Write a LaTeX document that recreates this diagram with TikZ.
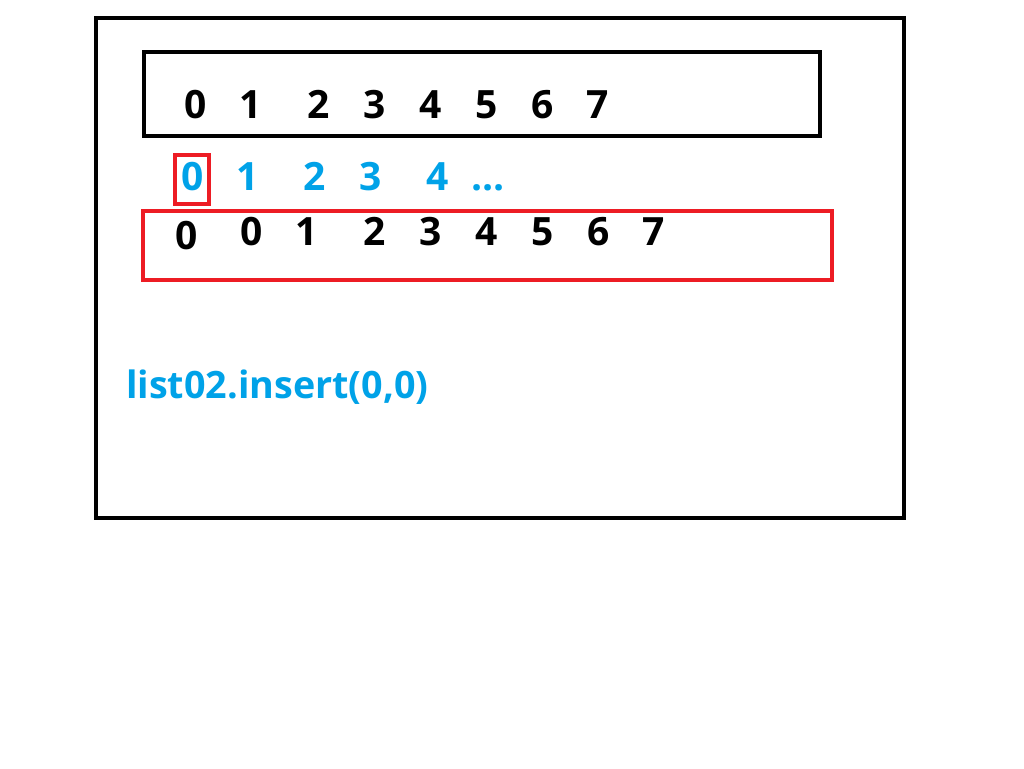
\documentclass[tikz,border=0pt]{standalone}
\usepackage{fontspec}
\setmainfont{Open Sans}
\definecolor{pblue}{HTML}{00A2E8}
\definecolor{pred}{HTML}{ED1C24}
\begin{document}
\begin{tikzpicture}[x=1pt,y=-1pt,
  digit/.style={font=\fontsize{39}{39}\selectfont\bfseries, inner sep=0pt, anchor=base},
  bdigit/.style={digit, text=black},
  ldigit/.style={digit, text=pblue},
  frame/.style={draw, line width=4pt, inner sep=0pt, outer sep=0pt, anchor=north west}]
\useasboundingbox (0,0) rectangle (1024,768);
\fill[white] (0,0) rectangle (1024,768);
\node[frame, draw=black, minimum width=808pt, minimum height=500pt] (outer) at (96,18) {};
\node[frame, draw=black, minimum width=676pt, minimum height=84pt] (top) at (144,52) {};
\node[frame, draw=pred, minimum width=689pt, minimum height=69pt] (bot) at (143,211) {};
\node[frame, draw=pred, line width=3.5pt, minimum width=34pt, minimum height=49pt] (sel) at (175,155) {};
% row 1
\foreach \d/\x in {0/196,1/251,2/319,3/375,4/431,5/487,6/543,7/598}
  \node[bdigit] (a\d) at (\x,118) {\d};
% row 2 (blue indices)
\foreach \d/\x in {0/193,1/248,2/315,3/371,4/438}
  \node[ldigit] (b\d) at (\x,190) {\d};
\node[ldigit] (bdots) at (488,190) {...};
% row 3
\node[bdigit] (c0) at (187,249) {0};
\foreach \d/\x/\n in {0/252/1,1/307/2,2/375/3,3/431/4,4/487/5,5/543/6,6/599/7,7/654/8}
  \node[bdigit] (c\n) at (\x,245) {\d};
\node[font=\fontsize{37.7}{37.7}\selectfont\bfseries, text=pblue, inner sep=0pt, anchor=base west] (cmd) at (126,398) {list02.insert(0,0)};
\end{tikzpicture}
\end{document}
